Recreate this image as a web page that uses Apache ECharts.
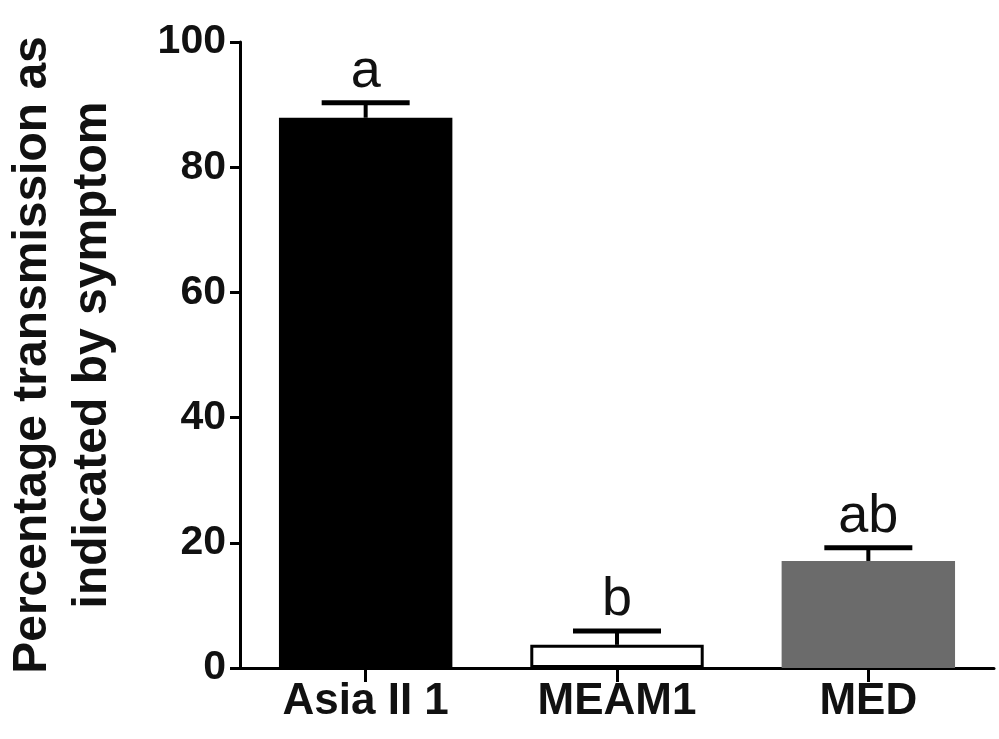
<!DOCTYPE html>
<html><head><meta charset="utf-8">
<script src="https://cdn.jsdelivr.net/npm/echarts@6/dist/echarts.min.js"></script>
<style>html,body{margin:0;padding:0;background:#fff}#c{width:999px;height:739px}</style>
</head><body><div id="c"></div>
<script>
var categories = ['Asia II 1', 'MEAM1', 'MED'];
var means = [87.9, 3.7, 17.1];
var errUpper = [90.3, 5.9, 19.2];
var letters = ['a', 'b', 'ab'];
var yTicks = [0, 20, 40, 60, 80, 100];
var barColors = ['#000000', '#ffffff', '#6b6b6b'];

var chart = echarts.init(document.getElementById('c'), null, {renderer: 'canvas'});
var F = '"Liberation Sans", Arial, sans-serif';
chart.setOption({
  animation: false,
  backgroundColor: '#fff',
  grid: {left: 240, right: 5, top: 42, bottom: 71, containLabel: false, outerBoundsMode: 'none'},
  xAxis: {
    type: 'category', data: categories,
    axisLine: {lineStyle: {color: '#000', width: 3}},
    axisTick: {show: true, alignWithLabel: true, interval: 0, length: 14, lineStyle: {color: '#000', width: 3}},
    axisLabel: {color: '#111', fontFamily: F, fontWeight: 'bold', fontSize: 44, margin: 12, interval: 0}
  },
  yAxis: {
    type: 'value', min: 0, max: 100, interval: 20,
    name: 'Percentage transmission as\nindicated by symptom',
    nameLocation: 'middle', nameGap: 117, nameRotate: 90,
    nameTextStyle: {color: '#111', fontFamily: F, fontWeight: 'bold', fontSize: 48, lineHeight: 60},
    splitLine: {show: false},
    axisLine: {show: true, lineStyle: {color: '#000', width: 3}},
    axisTick: {show: true, length: 10, lineStyle: {color: '#000', width: 3}},
    axisLabel: {color: '#111', fontFamily: F, fontWeight: 'bold', fontSize: 41, margin: 14,
      formatter: function (v) { return yTicks.indexOf(v) >= 0 ? String(v) : ''; }}
  },
  series: [{
    type: 'bar', barWidth: '69%',
    data: means.map(function (v, i) {
      return {value: v, itemStyle: {color: barColors[i], borderColor: '#000', borderWidth: i === 1 ? 3 : 0}};
    })
  }, {
    type: 'custom',
    data: means.map(function (v, i) { return [i, v, errUpper[i]]; }),
    renderItem: function (params, api) {
      var x = api.coord([api.value(0), 0])[0];
      var yb = api.coord([api.value(0), api.value(1)])[1];
      var yt = api.coord([api.value(0), api.value(2)])[1];
      var half = 44;
      return {type: 'group', children: [
        {type: 'line', shape: {x1: x, y1: yb, x2: x, y2: yt}, style: {stroke: '#000', lineWidth: 4}},
        {type: 'line', shape: {x1: x - half, y1: yt, x2: x + half, y2: yt}, style: {stroke: '#000', lineWidth: 5}},
        {type: 'text', style: {text: letters[params.dataIndex], x: x, y: yt - 4, textAlign: 'center', textVerticalAlign: 'bottom',
          font: '54px ' + F, fill: '#111'}}
      ]};
    },
    z: 5
  }]
});
</script></body></html>
